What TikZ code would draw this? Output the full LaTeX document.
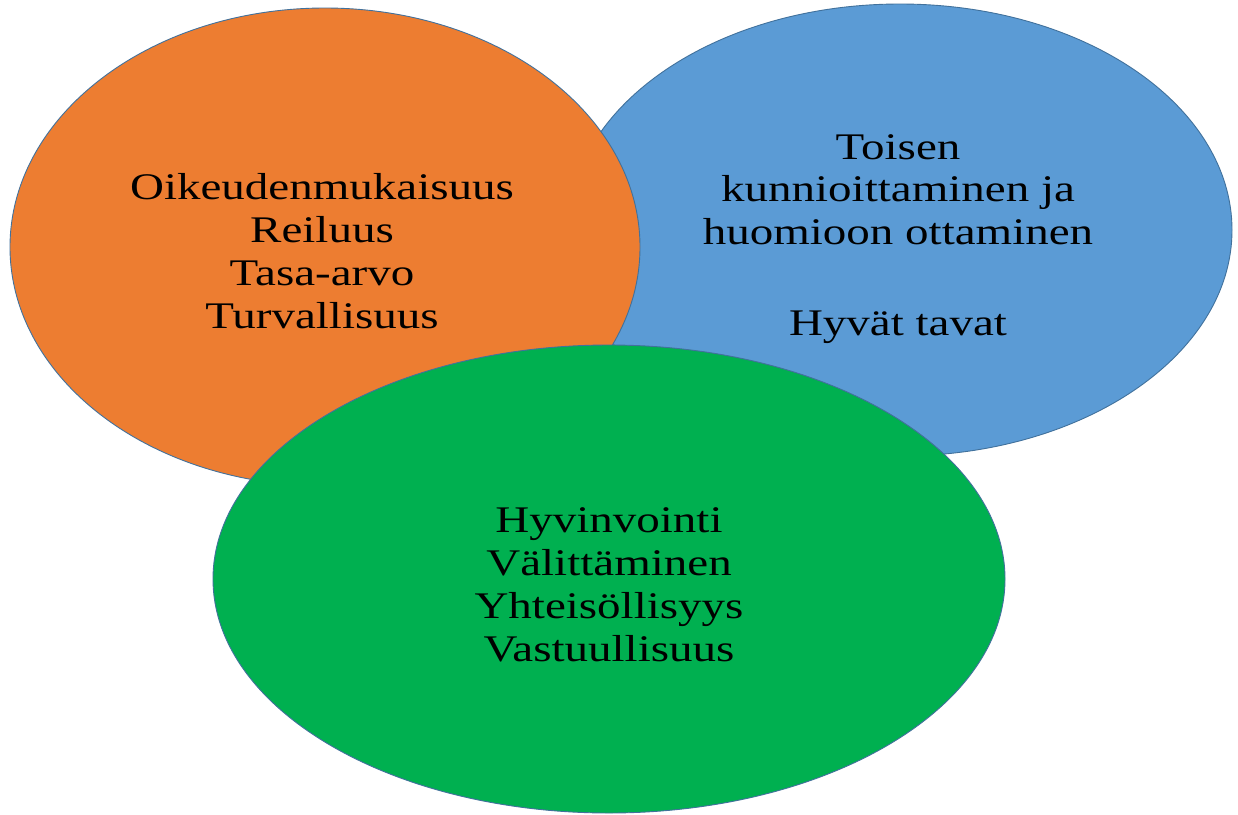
\documentclass[tikz,border=0pt]{standalone}
\usepackage{fontspec}
\setmainfont{Liberation Serif}
\usetikzlibrary{shapes.geometric}
\definecolor{vorange}{HTML}{ED7D31}
\definecolor{vblue}{HTML}{5B9BD5}
\definecolor{vgreen}{HTML}{00B050}
\definecolor{vedge}{HTML}{41719C}
\begin{document}
\begin{tikzpicture}[x=1pt,y=-1pt,
  bubble/.style={ellipse, draw=vedge, line width=0.9pt, inner sep=0pt},
  label text/.style={align=center, text=black, yscale=0.8, transform shape,
    font=\fontsize{47}{53.5}\selectfont, inner sep=0pt}]
\useasboundingbox[fill=white] (0,0) rectangle (1238,814);
\node[bubble, fill=vblue, minimum width=664pt, minimum height=452pt] (blue) at (900,230) {};
\node[bubble, fill=vorange, minimum width=630pt, minimum height=478pt] (orange) at (325,247) {};
\node[bubble, fill=vgreen, minimum width=792pt, minimum height=468pt] (green) at (609,579) {};
\node[label text] (tblue) at (898,239) {Toisen\\kunnioittaminen ja\\huomioon ottaminen\\[60pt]Hyvät tavat};
\node[label text] (torange) at (322,251) {Oikeudenmukaisuus\\Reiluus\\Tasa-arvo\\Turvallisuus};
\node[label text] (tgreen) at (609,585) {Hyvinvointi\\Välittäminen\\Yhteisöllisyys\\Vastuullisuus};
\end{tikzpicture}
\end{document}
